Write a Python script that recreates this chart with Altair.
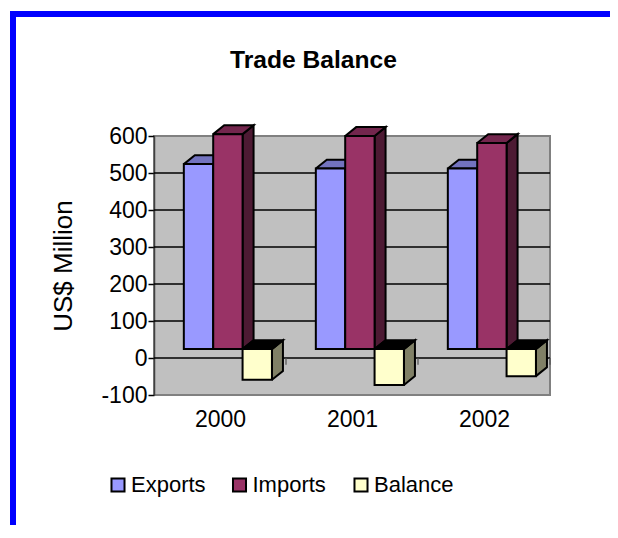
import altair as alt
import pandas as pd

years = ["2000", "2001", "2002"]
series = ["Exports", "Imports", "Balance"]
exports = [500, 488, 488]
imports = [581, 576, 557]
balance = [-83, -97, -73]
front_colors = ["#9999FF", "#993366", "#FFFFCC"]
top_colors = ["#7373BF", "#73264D", "#000000"]
side_colors = ["#4D1A33", "#4D1A33", "#808066"]
y_ticks = [-100, 0, 100, 200, 300, 400, 500, 600]
grid_values = [0, 100, 200, 300, 400, 500]
separators = [1, 2, 3]
chart_title = "Trade Balance"

BAR_START = 0.226
BAR_W = 0.2225
DEPTH_X = 11 / 132
DEPTH_Y = 24.0

values = {"Exports": exports, "Imports": imports, "Balance": balance}
fronts, polys = [], []
pid = 0
for yi, year in enumerate(years):
    for si, name in enumerate(series):
        v = values[name][yi]
        x0 = yi + BAR_START + si * BAR_W
        x1 = x0 + BAR_W
        lo, hi = sorted([0, v])
        lo += DEPTH_Y
        hi += DEPTH_Y
        fronts.append({"series": name, "x0": x0, "x1": x1, "lo": lo, "hi": hi})
        faces = [
            (side_colors[si], [(x1, lo), (x1 + DEPTH_X, lo + DEPTH_Y), (x1 + DEPTH_X, hi + DEPTH_Y), (x1, hi), (x1, lo)]),
            (top_colors[si], [(x0, hi), (x1, hi), (x1 + DEPTH_X, hi + DEPTH_Y), (x0 + DEPTH_X, hi + DEPTH_Y), (x0, hi)]),
        ]
        for col, pts in faces:
            for k, (px, py) in enumerate(pts):
                polys.append({"poly": pid, "k": k, "x": px, "y": py, "fill": col})
            pid += 1

front_df = pd.DataFrame(fronts)
poly_df = pd.DataFrame(polys)

FONT = "Liberation Sans"
W, H = 396, 259
xs = alt.Scale(domain=[0, 3], nice=False, zero=False)
ys = alt.Scale(domain=[-100, 600], nice=False, zero=False)

x_axis = alt.Axis(
    values=[0.5, 1.5, 2.5],
    labelExpr="['" + "','".join(years) + "'][floor(datum.value)]",
    ticks=False, domain=False, grid=False, title=None,
    labelFont=FONT, labelFontSize=23, labelColor="black", labelPadding=13, labelAngle=0,
)
y_axis = alt.Axis(
    values=y_ticks, tickCount=len(y_ticks), grid=False, title="US$ Million", labelOverlap=False,
    labelExpr="'' + datum.value",
    titleFont=FONT, titleFontSize=26, titleFontWeight="normal", titleColor="black", titlePadding=24,
    labelFont=FONT, labelFontSize=23, labelColor="black", labelPadding=1,
    tickColor="black", tickSize=6, tickWidth=1.5, domainColor="#404040", domainWidth=1.5,
)

grid_df = pd.DataFrame({"v": grid_values})
grid = alt.Chart(grid_df).mark_rule(color="black", strokeWidth=1.4).encode(
    y=alt.Y("v:Q", scale=ys, axis=y_axis),
)
axis_x = alt.Chart(pd.DataFrame({"x": [0.5]})).mark_point(opacity=0).encode(
    x=alt.X("x:Q", scale=xs, axis=x_axis),
)
sep_df = pd.DataFrame({"x": separators, "y0": [0, 0, 0], "y1": [-18, -18, -18]})
seps = alt.Chart(sep_df).mark_rule(color="#505050", strokeWidth=1.2).encode(
    x=alt.X("x:Q", scale=xs), y=alt.Y("y0:Q", scale=ys), y2="y1:Q",
)
faces = alt.Chart(poly_df).mark_line(stroke="black", strokeWidth=2, strokeJoin="miter", clip=False).encode(
    x=alt.X("x:Q", scale=xs),
    y=alt.Y("y:Q", scale=ys),
    detail="poly:N",
    order="k:Q",
    fill=alt.Fill("fill:N", scale=None),
)
front = alt.Chart(front_df).mark_rect(stroke="black", strokeWidth=2).encode(
    x=alt.X("x0:Q", scale=xs),
    x2="x1:Q",
    y=alt.Y("lo:Q", scale=ys),
    y2="hi:Q",
    color=alt.Color(
        "series:N",
        scale=alt.Scale(domain=series, range=front_colors),
        legend=alt.Legend(
            title=None, orient="none", direction="horizontal", columns=3,
            legendX=-47, legendY=338, gridAlign="all", columnPadding=17.5,
            symbolType="square", symbolSize=170, symbolStrokeColor="black", symbolStrokeWidth=2,
            symbolOpacity=1, labelFont=FONT, labelFontSize=22, labelColor="black", labelOffset=2,
            labelLimit=200,
        ),
    ),
)
title_mark = alt.Chart(pd.DataFrame({"t": [chart_title]})).mark_text(
    font=FONT, fontSize=24.6, fontWeight="bold", color="black", baseline="middle", align="center",
).encode(x=alt.value(159.5), y=alt.value(-75), text="t:N")
frame_v = alt.Chart(pd.DataFrame({"a": [0]})).mark_rule(color="#0000FF", strokeWidth=6).encode(
    x=alt.value(-141), y=alt.value(-125), y2=alt.value(394),
)
frame_h = alt.Chart(pd.DataFrame({"a": [0]})).mark_rule(color="#0000FF", strokeWidth=6).encode(
    y=alt.value(-122), x=alt.value(-144), x2=alt.value(456),
)

chart = (
    alt.layer(grid, axis_x, seps, faces, front, title_mark, frame_v, frame_h)
    .properties(
        width=W, height=H,
        padding={"left": 146, "top": 128, "right": 60, "bottom": 130},
        autosize=alt.AutoSizeParams(type="none"),
        background="white",
    )
    .configure_view(fill="#C0C0C0", stroke="#808080", strokeWidth=2)
)
chart.save("out.html", embed_options={"renderer": "svg", "actions": False})
